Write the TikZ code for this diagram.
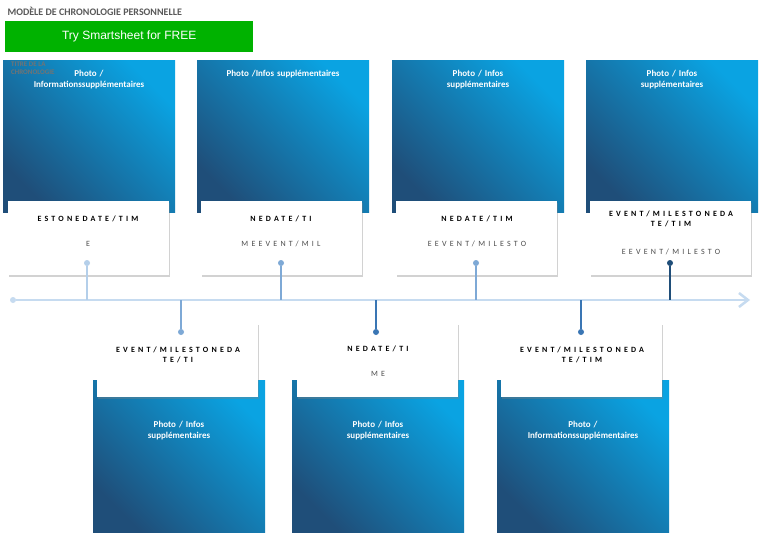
\documentclass[tikz,border=0pt]{standalone}
\usepackage{fontspec}
\setmainfont{Carlito}
\newfontfamily\spaced[LetterSpace=40]{Carlito}
\newfontfamily\arialf{Liberation Sans}
\usetikzlibrary{arrows.meta,shadows}
\definecolor{tl}{HTML}{C6DBF0}
\definecolor{c1}{HTML}{B4CFEA}
\definecolor{c2}{HTML}{7EA9D6}
\definecolor{c3}{HTML}{3A76B4}
\definecolor{c4}{HTML}{1F4E79}
\definecolor{sky}{HTML}{0AA3E2}
\tikzset{
 photo/.style={draw=none,left color=sky,right color=c4,shading angle=-45,minimum width=172pt,minimum height=152pt,anchor=north west,inner sep=0pt},
 note/.style={fill=white,drop shadow={opacity=0.35,shadow xshift=1pt,shadow yshift=-2pt},minimum width=161pt,minimum height=74pt,anchor=north west,inner sep=0pt},
 ptext/.style={text=white,font=\small\bfseries,align=center,text width=165pt},
 ntitle/.style={font=\spaced\footnotesize\bfseries,align=center,text width=150pt},
 nsub/.style={font=\spaced\footnotesize,text=black!70,align=center},
 dot/.style={circle,inner sep=0pt,minimum size=6pt,fill=#1},
}
\begin{document}
\begin{tikzpicture}[x=1pt,y=-1pt]
\useasboundingbox[fill=white] (0,0) rectangle (760,535);
\node[anchor=west,font=\bfseries,text=black!65] (title) at (4,11) {MODÈLE DE CHRONOLOGIE PERSONNELLE};
\node[fill=green!70!black,anchor=north west,minimum width=248pt,minimum height=31pt,font=\arialf\large,text=white] (btn) at (5,21) {Try Smartsheet for FREE};
% timeline
\coordinate (t1) at (750,300);
\node[dot=tl] (tdot) at (13,300) {};
\draw[tl,line width=2.5pt,-{Straight Barb[length=9pt,width=14pt]}] (tdot) -- (t1);
% top boxes
\foreach \n/\x/\nx/\pt/\dx/\col in {
 a/3/8/{Photo /\\Informationssupplémentaires}/87/c1,
 b/197/201/{Photo /Infos supplémentaires}/281/c2,
 c/392/396/{Photo / Infos\\supplémentaires}/476/c2,
 d/586/590/{Photo / Infos\\supplémentaires}/670/c4}{
 \node[photo] (p\n) at (\x,60) {};
 \node[ptext,anchor=north] at (\x+86,67) {\pt};
 \node[note] (n\n) at (\nx,201) {};
 \node[dot=\col] (d\n) at (\dx,263) {};
 \coordinate (e\n) at (\dx,300);
 \draw[\col,line width=1.6pt] (d\n) -- (e\n);
}
\node[ntitle] at (88,219) {ESTONEDATE/TIM};
\node[nsub] at (88,244) {E};
\node[ntitle] at (281,219) {NEDATE/TI};
\node[nsub] at (281,244) {MEEVENT/MIL};
\node[ntitle] at (477,219) {NEDATE/TIM};
\node[nsub] at (477,244) {EEVENT/MILESTO};
\node[ntitle] at (671,219) {EVENT/MILESTONEDA\\TE/TIM};
\node[nsub] at (671,252) {EEVENT/MILESTO};
\node[anchor=north west,font=\scriptsize\bfseries,text=black!55,align=left,inner sep=0pt] (tt) at (11,62) {TITRE DE LA\\CHRONOLOGIE};
% bottom boxes
\foreach \n/\x/\nx/\pt/\dx/\col in {
 e/93/97/{Photo / Infos\\supplémentaires}/181/c2,
 f/292/297/{Photo / Infos\\supplémentaires}/376/c3,
 g/497/501/{Photo /\\Informationssupplémentaires}/581/c3}{
 \node[photo] (p\n) at (\x,380) {};
 \node[ptext,anchor=north] at (\x+86,418) {\pt};
 \node[note] (n\n) at (\nx,323) {};
 \node[dot=\col] (d\n) at (\dx,332) {};
 \coordinate (e\n) at (\dx,300);
 \draw[\col,line width=1.6pt] (e\n) -- (d\n);
}
\node[ntitle] at (178,355) {EVENT/MILESTONEDA\\TE/TI};
\node[ntitle] at (378,349) {NEDATE/TI};
\node[nsub] at (378,374) {ME};
\node[ntitle] at (582,355) {EVENT/MILESTONEDA\\TE/TIM};
\end{tikzpicture}
\end{document}
